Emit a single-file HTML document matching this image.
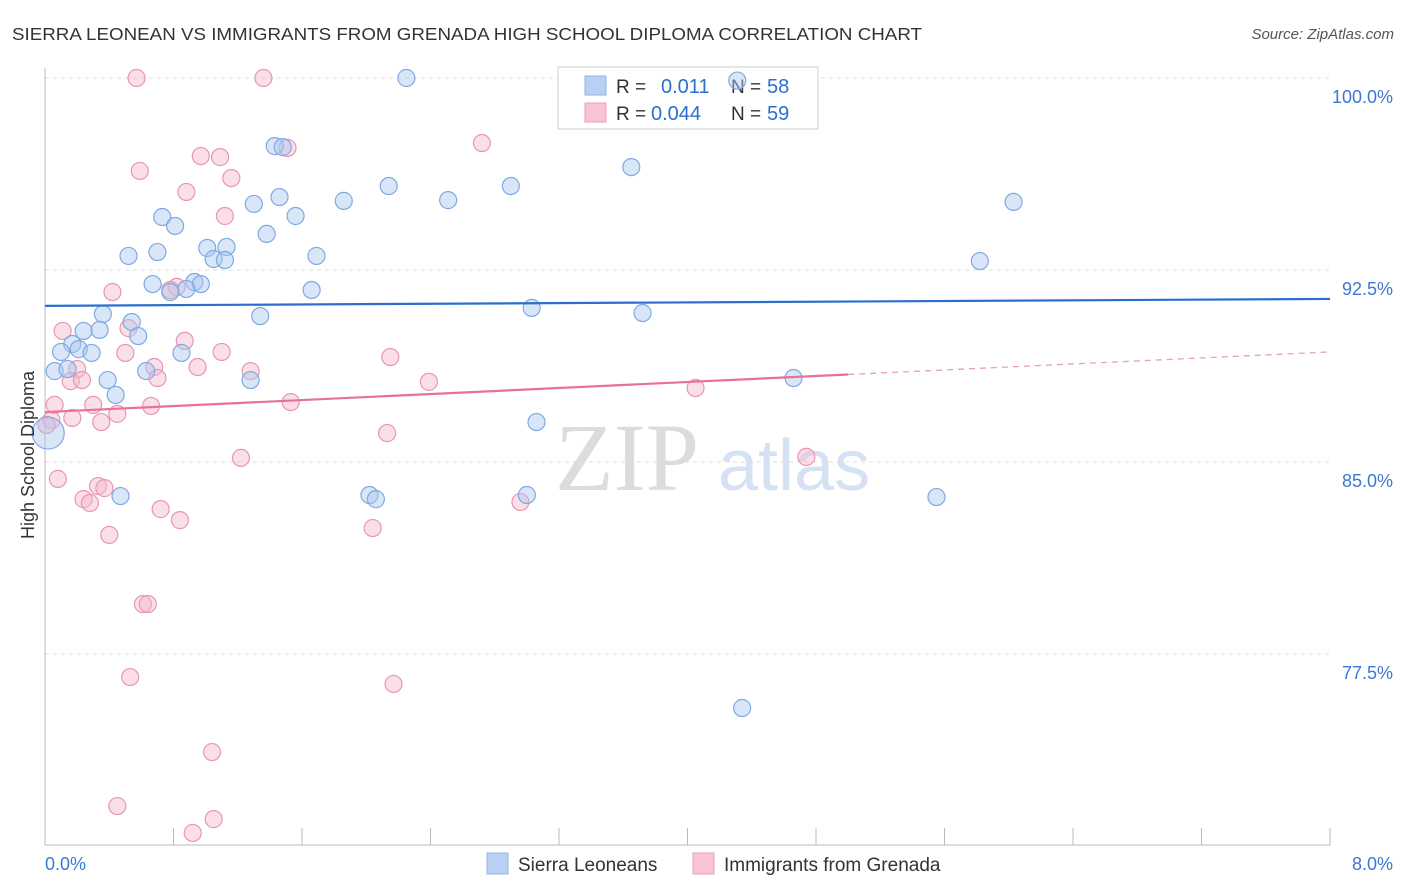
<!DOCTYPE html>
<html><head><meta charset="utf-8"><style>
body{margin:0;background:#fff;font-family:"Liberation Sans",sans-serif}
svg{display:block}
</style></head><body>
<svg id="c" width="1406" height="892" xmlns="http://www.w3.org/2000/svg">
<text x="12" y="40" font-size="17.5" fill="#333" textLength="910" lengthAdjust="spacingAndGlyphs">SIERRA LEONEAN VS IMMIGRANTS FROM GRENADA HIGH SCHOOL DIPLOMA CORRELATION CHART</text>
<text x="1394" y="39" font-size="15" fill="#555" font-style="italic" text-anchor="end">Source: ZipAtlas.com</text>
<g><text x="555" y="490" font-size="96" fill="#dcdcdc" font-family="Liberation Serif,serif">ZIP</text><text x="718" y="490" font-size="72" fill="#d4e2f4">atlas</text></g>
<g id="grid"></g><g id="axes"></g>
<g>
<rect x="558" y="67" width="260" height="62" fill="#fff" stroke="#ccc"/>
<rect x="585" y="76" width="21" height="19" fill="#b7d0f3" stroke="#8fb4e6"/>
<rect x="585" y="103" width="21" height="19" fill="#f8c4d4" stroke="#eba0b8"/>
<text x="616" y="93" font-size="19" fill="#333">R =</text><text x="661" y="93" font-size="20" fill="#2a6fd0">0.011</text>
<text x="731" y="93" font-size="19" fill="#333">N =</text><text x="767" y="93" font-size="20" fill="#2a6fd0">58</text>
<text x="616" y="120" font-size="19" fill="#333">R =</text><text x="651" y="120" font-size="20" fill="#2a6fd0">0.044</text>
<text x="731" y="120" font-size="19" fill="#333">N =</text><text x="767" y="120" font-size="20" fill="#2a6fd0">59</text>
</g>
<g id="pts"></g><g id="lines"></g>
<text transform="translate(34,455) rotate(-90)" font-size="18" fill="#333" text-anchor="middle">High School Diploma</text>
<g>
<rect x="487" y="853" width="21" height="21" fill="#b7d0f3" stroke="#8fb4e6"/>
<text x="518" y="871" font-size="19" fill="#333">Sierra Leoneans</text>
<rect x="693" y="853" width="21" height="21" fill="#f8c4d4" stroke="#eba0b8"/>
<text x="724" y="871" font-size="19" fill="#333">Immigrants from Grenada</text>
</g>
</svg>
<script>
const yTicks=[100,92.5,85,77.5];
const yTickLabels=["100.0%","92.5%","85.0%","77.5%"];
const xTickLabels=["0.0%","8.0%"];
const blueX=[2.25,4.31,1.43,1.48,3.65,2.14,2.90,1.46,1.30,1.86,2.51,6.03,0.73,1.56,0.81,1.38,1.01,1.13,0.70,0.52,1.05,1.12,1.69,5.82,0.67,0.93,0.97,0.88,0.78,1.66,3.03,3.72,0.36,1.34,0.54,0.24,0.34,0.58,0.17,0.21,0.10,0.29,0.85,0.06,0.14,0.63,0.39,1.28,4.66,0.44,3.06,0.02,0.47,2.02,2.06,3.0,5.55,4.34];
const blueY=[100,99.9,97.34,97.3,96.52,95.78,95.78,95.35,95.08,95.2,95.23,95.16,94.57,94.61,94.22,93.91,93.36,93.4,93.2,93.05,92.93,92.89,93.05,92.85,91.95,92.03,91.95,91.76,91.64,91.72,91.02,90.82,90.78,90.7,90.47,90.12,90.16,89.92,89.61,89.41,89.3,89.26,89.26,88.55,88.63,88.55,88.2,88.2,88.28,87.62,86.56,86.13,83.67,83.71,83.55,83.71,83.63,75.39];
const pinkX=[0.57,1.36,2.72,1.51,0.97,1.09,0.59,1.16,0.88,1.12,0.82,0.78,0.42,0.11,0.52,0.87,0.50,1.10,2.15,0.68,0.20,1.28,0.16,0.23,0.70,0.95,2.39,4.05,0.06,0.30,0.66,1.53,0.45,0.17,0.35,0.04,0.01,2.13,1.22,4.74,0.08,0.33,0.37,0.24,0.28,0.72,0.84,2.96,2.04,0.40,0.61,0.64,0.53,2.17,1.04,0.45,1.05,0.92];
const pinkY=[100,100,97.46,97.27,96.95,96.91,96.37,96.09,95.55,94.61,91.84,91.72,91.64,90.12,90.23,89.73,89.26,89.3,89.1,88.71,88.63,88.55,88.16,88.2,88.28,88.71,88.13,87.89,87.23,87.23,87.19,87.34,86.88,86.72,86.56,86.64,86.45,86.13,85.16,85.2,84.34,84.06,83.98,83.55,83.4,83.16,82.73,83.44,82.42,82.15,79.45,79.45,76.6,76.33,73.67,71.56,71.05,70.51];
const blueTrend=[91.1,91.37];
const pinkTrend=[86.95,89.3];
const pinkSolidEnd=5.0;
const NS="http://www.w3.org/2000/svg";
const X=v=>45+v/8*1285, Y=v=>78+(100-v)*25.6;
function mk(p,t,a){const e=document.createElementNS(NS,t);for(const k in a)e.setAttribute(k,a[k]);p.appendChild(e);return e;}
const grid=document.getElementById('grid'),axes=document.getElementById('axes'),pts=document.getElementById('pts'),lines=document.getElementById('lines');
yTicks.forEach((t,i)=>{
 const l=mk(grid,'line',{x1:45,x2:1330,y1:Y(t),y2:Y(t),stroke:'#ddd','stroke-dasharray':'4,4'});
 
 
 const tx=mk(axes,'text',{x:1393,y:Y(t)+25,'font-size':18,fill:'#3b78d6','text-anchor':'end'});
 tx.textContent=yTickLabels[i];
 
 
});
const ax=mk(axes,'line',{x1:45,x2:1330,y1:845,y2:845,stroke:'#bbb'});


const ay=mk(axes,'line',{x1:45,x2:45,y1:68,y2:845,stroke:'#bbb'});


for(let i=0;i<=10;i++){const t=mk(axes,'line',{x1:X(i*0.8),x2:X(i*0.8),y1:828,y2:845,stroke:'#bbb'});
 
 }
[[0,45,'start'],[1,1393,'end']].forEach(([i,x,a])=>{const t=mk(axes,'text',{x:x,y:870,'font-size':18,fill:'#3b78d6','text-anchor':a});t.textContent=xTickLabels[i];
 
 });
function dots(xs,ys,fill,stroke,name){xs.forEach((x,i)=>{const r=(x<0.03&&ys[i]<86.5&&name==='blue-point')?16:8.5;
 const c=mk(pts,'circle',{cx:X(x),cy:Y(ys[i]),r:r,fill:fill,'fill-opacity':0.45,stroke:stroke,'stroke-width':1.2});
 
 });}
dots(pinkX,pinkY,'#f5b8cc','#e996b2','pink-point');
dots(blueX,blueY,'#aac8f0','#7fa9e2','blue-point');
const bl=mk(lines,'line',{x1:X(0),x2:X(8),y1:Y(blueTrend[0]),y2:Y(blueTrend[1]),stroke:'#2a6fd0','stroke-width':2.2});


const pm=pinkTrend[0]+(pinkTrend[1]-pinkTrend[0])*pinkSolidEnd/8;
const pl=mk(lines,'line',{x1:X(0),x2:X(pinkSolidEnd),y1:Y(pinkTrend[0]),y2:Y(pm),stroke:'#e8709a','stroke-width':2.2});


const pd=mk(lines,'line',{x1:X(pinkSolidEnd),x2:X(8),y1:Y(pm),y2:Y(pinkTrend[1]),stroke:'#e8a0b8','stroke-width':1.3,'stroke-dasharray':'6,5'});


</script>
</body></html>
